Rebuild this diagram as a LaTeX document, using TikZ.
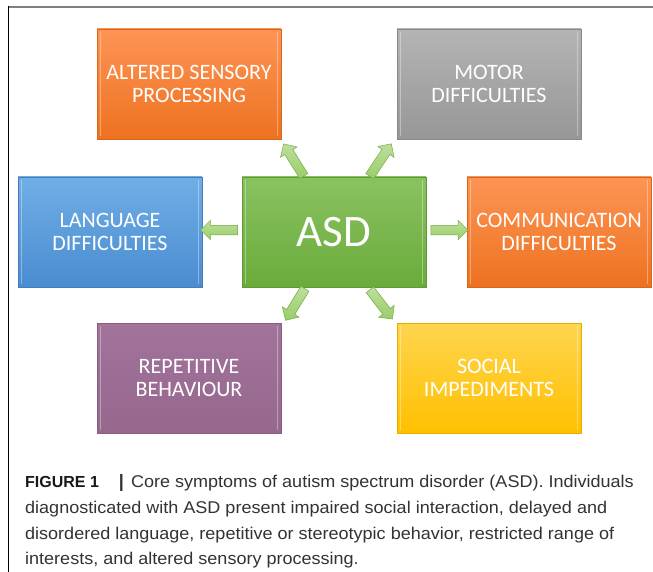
\documentclass[tikz,border=0pt]{standalone}
\usepackage{fontspec}
\setmainfont{Liberation Sans}
\newfontfamily\boxfont{Carlito}
\newfontfamily\capfont[FakeStretch=1.06]{Liberation Sans}
\usetikzlibrary{shapes.arrows,calc}
\definecolor{orT}{HTML}{FD9455}\definecolor{orB}{HTML}{EE7220}
\definecolor{grT}{HTML}{B4B4B4}\definecolor{grB}{HTML}{979797}
\definecolor{blT}{HTML}{70AEE6}\definecolor{blB}{HTML}{4A8CD0}
\definecolor{gnT}{HTML}{8AC261}\definecolor{gnB}{HTML}{6AAB3B}
\definecolor{puT}{HTML}{A2739B}\definecolor{puB}{HTML}{96688E}
\definecolor{yeT}{HTML}{FFD54F}\definecolor{yeB}{HTML}{FFC000}
\definecolor{arF}{HTML}{9ACD68}\definecolor{arD}{HTML}{6FAE42}
\definecolor{capc}{HTML}{333333}
\tikzset{
  symbox/.style={rectangle, minimum width=184pt, minimum height=110pt, inner sep=0pt,
    text=white, align=center, font=\boxfont\fontsize{22}{23.5}\selectfont},
  orbox/.style={symbox, top color=orT, bottom color=orB, draw=orB!90!black, line width=0.6pt},
  grbox/.style={symbox, top color=grT, bottom color=grB, draw=grB!90!black, line width=0.6pt},
  blbox/.style={symbox, top color=blT, bottom color=blB, draw=blB!90!black, line width=0.6pt},
  gnbox/.style={symbox, top color=gnT, bottom color=gnB, draw=gnB!90!black, line width=0.6pt},
  pubox/.style={symbox, top color=puT, bottom color=puB, draw=puB!90!black, line width=0.6pt},
  yebox/.style={symbox, top color=yeT, bottom color=yeB, draw=yeB!90!black, line width=0.6pt},
  blockarrow/.style={single arrow, sloped, allow upside down, inner xsep=0pt, inner ysep=4.5pt,
    minimum width=19pt, single arrow head extend=5pt, single arrow head indent=0pt,
    minimum height=#1, left color=arF!65!white, right color=arF, shading angle=0,
    draw=arD, line width=0.5pt},
  captext/.style={anchor=base west, inner sep=0pt, text=capc, font=\capfont\fontsize{17}{25.5}\selectfont},
}
\newcommand{\bevel}[1]{%
  \draw[white, opacity=0.35, line width=1.2pt] ($(#1.north west)+(4pt,-3pt)$) -- ($(#1.south west)+(4pt,3pt)$);
  \draw[white, opacity=0.35, line width=1.2pt] ($(#1.north east)+(-4pt,-3pt)$) -- ($(#1.south east)+(-4pt,3pt)$);}
\begin{document}
\begin{tikzpicture}[x=1pt,y=-1pt]
\useasboundingbox (0,0) rectangle (653,572);
\fill[white] (0,0) rectangle (653,572);
% frame
\draw[gray, line width=1.4pt] (8,7) -- (653,7);
\draw[black, line width=1pt] (8,6.3) -- (8,572);
% boxes
\node[orbox] (alt) at (189,84) {ALTERED SENSORY\\PROCESSING};
\node[grbox] (mot) at (489,84) {MOTOR\\DIFFICULTIES};
\node[blbox] (lan) at (110,232) {LANGUAGE\\DIFFICULTIES};
\node[gnbox, font=\boxfont\fontsize{45}{48}\selectfont] (asd) at (334,232) {ASD};
\node[orbox] (com) at (559,232) {COMMUNICATION\\DIFFICULTIES};
\node[pubox] (rep) at (189,378) {REPETITIVE\\BEHAVIOUR};
\node[yebox] (soc) at (489,378) {SOCIAL\\IMPEDIMENTS};
\foreach \n in {alt,mot,lan,asd,com,rep,soc} {\bevel{\n}}
% arrow ends
\coordinate (t1) at ($(asd.north west)+(65,4)$);
\coordinate (h1) at ($(alt.south east)+(2,4)$);
\coordinate (t2) at ($(asd.north west)+(125,4)$);
\coordinate (h2) at ($(mot.south west)+(-5,4)$);
\coordinate (t3) at ($(asd.west)+(-2,-2)$);
\coordinate (h3) at ($(lan.east)+(1,-2)$);
\coordinate (t4) at ($(asd.east)+(2,-2)$);
\coordinate (h4) at ($(com.west)+(-1,-2)$);
\coordinate (t5) at ($(asd.south west)+(66,-3)$);
\coordinate (h5) at ($(rep.north east)+(4,-2)$);
\coordinate (t6) at ($(asd.south west)+(124,-3)$);
\coordinate (h6) at ($(soc.north west)+(-3,-2)$);
\path (t1) -- (h1) node[midway, blockarrow=38pt] {};
\path (t2) -- (h2) node[midway, blockarrow=39pt] {};
\path (t3) -- (h3) node[midway, blockarrow=37pt] {};
\path (t4) -- (h4) node[midway, blockarrow=37pt] {};
\path (t5) -- (h5) node[midway, blockarrow=37pt] {};
\path (t6) -- (h6) node[midway, blockarrow=37pt] {};
% caption
\node[captext] (c1) at (25,487) {{\rmfamily\bfseries\fontsize{16}{25.5}\selectfont\color{black!90}FIGURE 1}\hspace{20pt}{\rmfamily\bfseries\fontsize{18}{25}\selectfont|}\hspace{7pt}Core symptoms of autism spectrum disorder (ASD). Individuals};
\node[captext] (c2) at (25,513) {diagnosticated with ASD present impaired social interaction, delayed and};
\node[captext] (c3) at (25,539) {disordered language, repetitive or stereotypic behavior, restricted range of};
\node[captext] (c4) at (25,564) {interests, and altered sensory processing.};
\end{tikzpicture}
\end{document}
